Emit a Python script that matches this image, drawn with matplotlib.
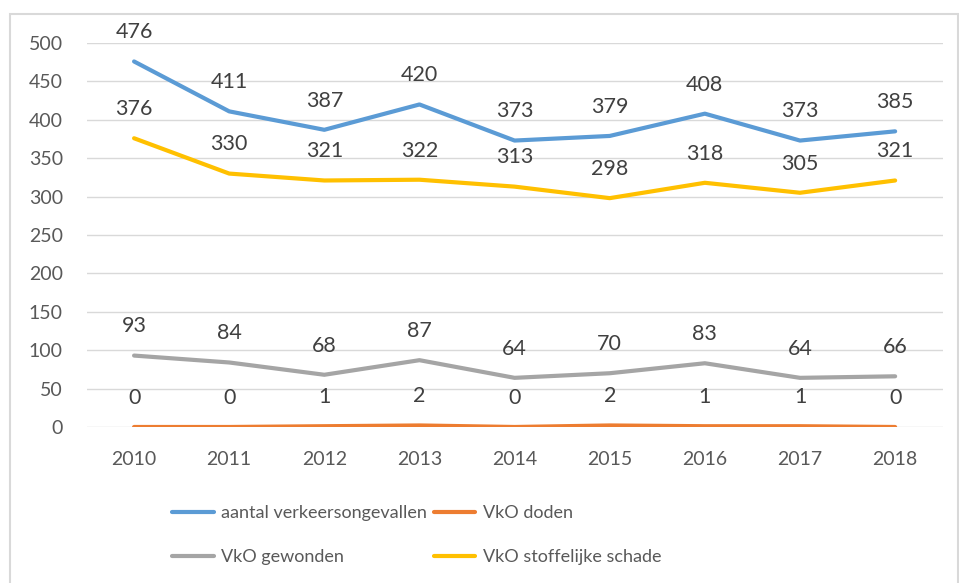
import matplotlib.pyplot as plt
from matplotlib.patches import Rectangle

plt.rcParams['font.family'] = ['Lato', 'DejaVu Sans']

# data
years = ['2010', '2011', '2012', '2013', '2014', '2015', '2016', '2017', '2018']
ongevallen = [476, 411, 387, 420, 373, 379, 408, 373, 385]
doden = [0, 0, 1, 2, 0, 2, 1, 1, 0]
gewonden = [93, 84, 68, 87, 64, 70, 83, 64, 66]
stoffelijk = [376, 330, 321, 322, 313, 298, 318, 305, 321]

series = [
    ('aantal verkeersongevallen', ongevallen, '#5B9BD5'),
    ('VkO doden', doden, '#ED7D31'),
    ('VkO gewonden', gewonden, '#A5A5A5'),
    ('VkO stoffelijke schade', stoffelijk, '#FFC000'),
]

fig = plt.figure(figsize=(9.59, 5.83), dpi=100)
ax = fig.add_axes([0.0902, 0.2676, 0.8928, 0.6586])

x = list(range(len(years)))
handles = {}
for name, vals, col in series:
    ln, = ax.plot(x, vals, color=col, lw=3, solid_capstyle='round', label=name)
    handles[name] = ln
    for xi, v in zip(x, vals):
        ax.annotate(str(v), (xi, v), xytext=(0, 21), textcoords='offset points',
                    ha='center', va='center', fontsize=15.5, color='#404040',
                    annotation_clip=False)

ax.set_xlim(-0.5, len(years) - 0.5)
ax.set_ylim(0, 500)
ax.set_yticks(range(0, 501, 50))
ax.set_xticks(x)
ax.set_xticklabels(years)
ax.grid(axis='y', color='#d9d9d9', lw=1)
ax.set_axisbelow(True)
for s in ax.spines.values():
    s.set_visible(False)
ax.tick_params(length=0, labelsize=14, labelcolor='#595959')
ax.tick_params(axis='x', pad=17)
ax.tick_params(axis='y', pad=17)

order = ['aantal verkeersongevallen', 'VkO gewonden', 'VkO doden', 'VkO stoffelijke schade']
fig.legend([handles[n] for n in order], order, ncol=2, frameon=False,
           loc='upper left', bbox_to_anchor=(172 / 959, 1 - 505 / 583),
           borderaxespad=0, borderpad=0, fontsize=13, labelcolor='#595959',
           handlelength=2.3, handletextpad=0.4, columnspacing=0.4, labelspacing=1.55)

# outer chart border
fig.patches.append(Rectangle((10 / 959, -0.01), 948 / 959, 1 - 14 / 583 + 0.01,
                             transform=fig.transFigure, fill=False,
                             edgecolor='#d9d9d9', lw=1.5))

fig.savefig('out.png', dpi=100)
